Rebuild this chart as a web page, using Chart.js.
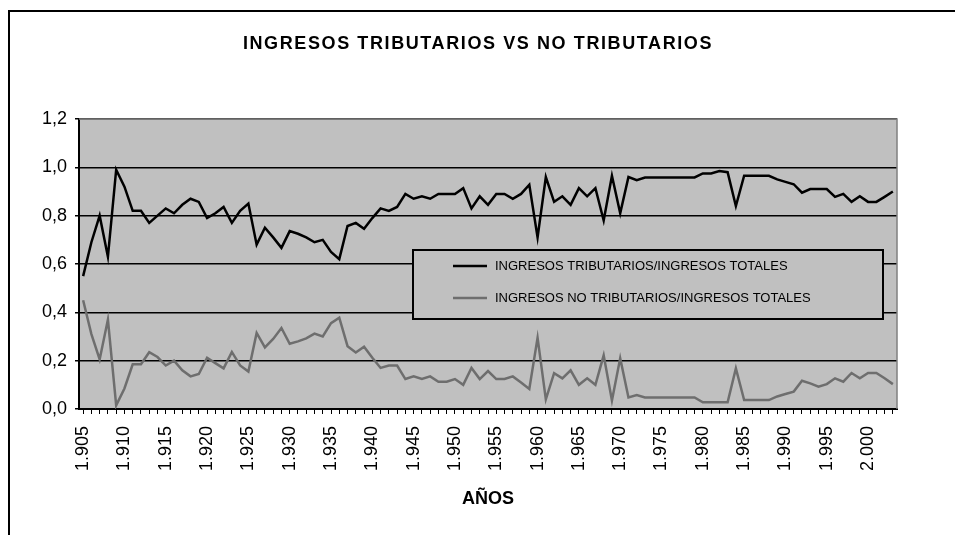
<!DOCTYPE html>
<html>
<head>
<meta charset="utf-8">
<script src="https://cdn.jsdelivr.net/npm/chart.js@4"></script>
<style>
  html, body { margin: 0; padding: 0; background: #fff; }
  #wrap { width: 955px; height: 535px; }
</style>
</head>
<body>
<div id="wrap"><canvas id="chart" width="955" height="535"></canvas></div>
<script>
// Years (categories)
const years = [
  1905, 1906, 1907, 1908, 1909, 1910, 1911, 1912, 1913, 1914,
  1915, 1916, 1917, 1918, 1919, 1920, 1921, 1922, 1923, 1924,
  1925, 1926, 1927, 1928, 1929, 1930, 1931, 1932, 1933, 1934,
  1935, 1936, 1937, 1938, 1939, 1940, 1941, 1942, 1943, 1944,
  1945, 1946, 1947, 1948, 1949, 1950, 1951, 1952, 1953, 1954,
  1955, 1956, 1957, 1958, 1959, 1960, 1961, 1962, 1963, 1964,
  1965, 1966, 1967, 1968, 1969, 1970, 1971, 1972, 1973, 1974,
  1975, 1976, 1977, 1978, 1979, 1980, 1981, 1982, 1983, 1984,
  1985, 1986, 1987, 1988, 1989, 1990, 1991, 1992, 1993, 1994,
  1995, 1996, 1997, 1998, 1999, 2000, 2001, 2002, 2003
];

// Ingresos tributarios / ingresos totales
const tributarios = [
  0.55, 0.69, 0.80, 0.63, 0.99, 0.92, 0.82, 0.82, 0.77, 0.80,
  0.83, 0.81, 0.845, 0.87, 0.857, 0.79, 0.81, 0.836, 0.77, 0.82,
  0.85, 0.68, 0.75, 0.71, 0.667, 0.736, 0.725, 0.71, 0.69, 0.70,
  0.65, 0.62, 0.757, 0.77, 0.746, 0.79, 0.83, 0.82, 0.836, 0.89,
  0.87, 0.88, 0.87, 0.89, 0.89, 0.89, 0.914, 0.83, 0.88, 0.845,
  0.89, 0.89, 0.87, 0.89, 0.928, 0.71, 0.96, 0.857, 0.88, 0.845,
  0.914, 0.88, 0.914, 0.78, 0.965, 0.81, 0.96, 0.947, 0.958, 0.958,
  0.958, 0.958, 0.958, 0.958, 0.958, 0.975, 0.975, 0.985, 0.98, 0.84,
  0.965, 0.965, 0.965, 0.965, 0.95, 0.94, 0.93, 0.895, 0.91, 0.91,
  0.91, 0.878, 0.89, 0.857, 0.88, 0.857, 0.857, 0.878, 0.90
];

// Ingresos no tributarios / ingresos totales
const noTributarios = [
  0.45, 0.31, 0.205, 0.37, 0.015, 0.085, 0.185, 0.185, 0.235, 0.215,
  0.18, 0.20, 0.16, 0.135, 0.145, 0.212, 0.19, 0.168, 0.236, 0.18,
  0.155, 0.315, 0.255, 0.29, 0.335, 0.27, 0.28, 0.292, 0.312, 0.30,
  0.355, 0.378, 0.26, 0.234, 0.258, 0.212, 0.17, 0.18, 0.18, 0.124,
  0.135, 0.124, 0.135, 0.113, 0.113, 0.124, 0.10, 0.17, 0.124, 0.157,
  0.124, 0.124, 0.135, 0.11, 0.083, 0.295, 0.04, 0.148, 0.127, 0.16,
  0.10, 0.127, 0.10, 0.222, 0.035, 0.21, 0.048, 0.058, 0.048, 0.048,
  0.048, 0.048, 0.048, 0.048, 0.048, 0.028, 0.028, 0.028, 0.028, 0.168,
  0.037, 0.037, 0.037, 0.037, 0.052, 0.062, 0.072, 0.117, 0.106, 0.092,
  0.103, 0.127, 0.113, 0.149, 0.127, 0.149, 0.149, 0.127, 0.103
];

const seriesLabels = [
  'INGRESOS TRIBUTARIOS/INGRESOS TOTALES',
  'INGRESOS NO TRIBUTARIOS/INGRESOS TOTALES'
];

const FONT = 'Liberation Sans, Arial, sans-serif';

// year 1905 -> "1.905"
function formatYear(y) {
  const s = String(y);
  return s.slice(0, 1) + '.' + s.slice(1);
}

// Frame, plot background, titles and the boxed legend
const decorations = {
  id: 'decorations',
  beforeDraw(chart) {
    const { ctx, chartArea: a } = chart;
    ctx.save();
    ctx.fillStyle = '#fff';
    ctx.fillRect(0, 0, chart.width, chart.height);
    ctx.strokeStyle = '#000';
    ctx.lineWidth = 2;
    ctx.strokeRect(9, 11, 1000, 600);
    ctx.fillStyle = '#C0C0C0';
    ctx.fillRect(a.left, a.top, a.right - a.left, a.bottom - a.top);
    ctx.restore();
  },
  afterDatasetsDraw(chart) {
    const { ctx, chartArea: a } = chart;
    ctx.save();
    // top / right border of plot area
    ctx.strokeStyle = '#808080';
    ctx.lineWidth = 1.5;
    ctx.beginPath();
    ctx.moveTo(a.left, a.top);
    ctx.lineTo(a.right, a.top);
    ctx.lineTo(a.right, a.bottom);
    ctx.stroke();

    // legend box
    const lx = 413, ly = 250, lw = 470, lh = 69;
    ctx.fillStyle = '#C0C0C0';
    ctx.fillRect(lx, ly, lw, lh);
    ctx.strokeStyle = '#000';
    ctx.lineWidth = 2;
    ctx.strokeRect(lx, ly, lw, lh);
    ctx.font = '13px ' + FONT;
    ctx.textBaseline = 'middle';
    ctx.textAlign = 'left';
    chart.data.datasets.forEach((ds, i) => {
      const y = ly + 16 + i * 32;
      ctx.strokeStyle = ds.borderColor;
      ctx.lineWidth = 2.5;
      ctx.beginPath();
      ctx.moveTo(453, y);
      ctx.lineTo(487, y);
      ctx.stroke();
      ctx.fillStyle = '#000';
      ctx.fillText(ds.label, 495, y);
    });

    // titles
    ctx.fillStyle = '#000';
    ctx.textAlign = 'center';
    ctx.font = 'bold 18px ' + FONT;
    ctx.letterSpacing = '1.6px';
    ctx.fillText('INGRESOS TRIBUTARIOS VS NO TRIBUTARIOS', 478, 44);
    ctx.letterSpacing = '0px';
    ctx.fillText('AÑOS', 488, 499);
    ctx.restore();
  }
};

const ctx = document.getElementById('chart').getContext('2d');
new Chart(ctx, {
  type: 'line',
  data: {
    labels: years,
    datasets: [
      {
        label: seriesLabels[0],
        data: tributarios,
        borderColor: '#000000',
        borderWidth: 2.5,
        pointRadius: 0,
        tension: 0,
        fill: false
      },
      {
        label: seriesLabels[1],
        data: noTributarios,
        borderColor: '#6E6E6E',
        borderWidth: 2.5,
        pointRadius: 0,
        tension: 0,
        fill: false
      }
    ]
  },
  options: {
    responsive: false,
    animation: false,
    layout: { padding: { top: 119, right: 58, left: 0, bottom: 0 } },
    plugins: {
      legend: { display: false },
      title: { display: false },
      tooltip: { enabled: false }
    },
    scales: {
      x: {
        offset: true,
        grid: { drawOnChartArea: false, drawTicks: true, tickLength: 5, color: '#000', lineWidth: 1 },
        border: { color: '#000', width: 2 },
        ticks: {
          autoSkip: false,
          minRotation: 90,
          maxRotation: 90,
          padding: 12,
          color: '#000',
          font: { family: FONT, size: 18 },
          callback: function(value, index) {
            const y = years[index];
            return (y - 1905) % 5 === 0 ? formatYear(y) : '';
          }
        },
        afterFit: function(scale) { scale.height = 126; }
      },
      y: {
        min: 0,
        max: 1.2,
        grid: { color: '#000', lineWidth: 1.5, tickLength: 4 },
        border: { color: '#000', width: 2 },
        ticks: {
          stepSize: 0.2,
          padding: 8,
          color: '#000',
          font: { family: FONT, size: 18 },
          callback: function(value) {
            return value.toFixed(1).replace('.', ',');
          }
        },
        afterFit: function(scale) { scale.width = 79; }
      }
    }
  },
  plugins: [decorations]
});
</script>
</body>
</html>
